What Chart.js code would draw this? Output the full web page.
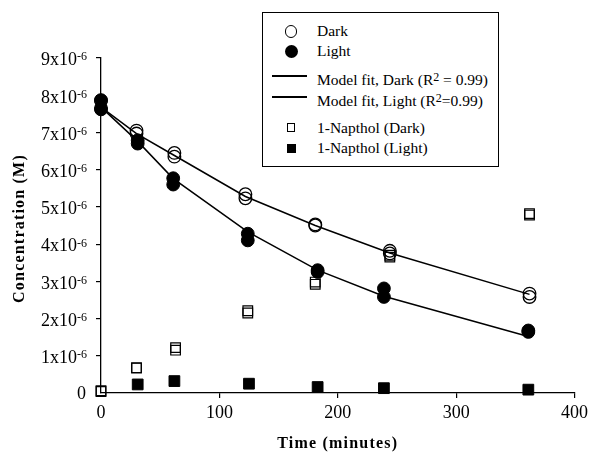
<!DOCTYPE html>
<html>
<head>
<meta charset="utf-8">
<script src="https://cdn.jsdelivr.net/npm/chart.js@4.4.1/dist/chart.umd.min.js"></script>
<style>
  html, body { margin: 0; padding: 0; background: #fff; }
  #wrap { position: relative; width: 592px; height: 459px; }
  #legend {
    position: absolute; left: 262px; top: 12px; width: 235px; height: 153px;
    border: 1px solid #000; background: #fff;
    font-family: "Liberation Serif", "Times New Roman", serif; font-size: 15.5px; color: #000;
  }
  #legend .lab { position: absolute; left: 54px; height: 20px; line-height: 20px; white-space: nowrap; }
  #legend .lab sup { font-size: 12px; vertical-align: 4px; line-height: 0; }
  #legend .sym { position: absolute; box-sizing: border-box; }
</style>
</head>
<body>
<div id="wrap">
  <canvas id="chart" width="592" height="459"></canvas>
  <div id="legend">
    <div class="sym" style="left:21.7px;top:12px;width:12.6px;height:12.6px;border:1.3px solid #000;border-radius:50%"></div>
    <div class="lab" style="top:8.3px">Dark</div>
    <div class="sym" style="left:21.5px;top:31.8px;width:13px;height:13px;background:#000;border-radius:50%"></div>
    <div class="lab" style="top:28.3px">Light</div>
    <div class="sym" style="left:9px;top:62px;width:35px;height:1.5px;background:#000"></div>
    <div class="lab" style="top:57.3px">Model fit, Dark (R<sup>2</sup> = 0.99)</div>
    <div class="sym" style="left:9px;top:83px;width:35px;height:1.5px;background:#000"></div>
    <div class="lab" style="top:78px">Model fit, Light (R<sup>2</sup>=0.99)</div>
    <div class="sym" style="left:23.8px;top:110.4px;width:8.5px;height:8.5px;border:1.2px solid #000"></div>
    <div class="lab" style="top:104.7px">1-Napthol (Dark)</div>
    <div class="sym" style="left:23.5px;top:131px;width:9px;height:9px;background:#000"></div>
    <div class="lab" style="top:125px">1-Napthol (Light)</div>
  </div>
</div>
<script>
// concentrations in units of 10^-6 M, time in minutes
const timeDark  = [0, 30, 62, 122, 181, 244, 362];
const darkRep1  = [7.85, 7.05, 6.45, 5.34, 4.53, 3.82, 2.67];
const darkRep2  = [7.65, 6.97, 6.35, 5.23, 4.50, 3.75, 2.58];

const timeLight = [0, 31, 61, 124, 183, 239, 361];
const lightRep1 = [7.87, 6.79, 5.77, 4.28, 3.30, 2.81, 1.68];
const lightRep2 = [7.62, 6.70, 5.60, 4.10, 3.25, 2.58, 1.64];

// model fit curves, evaluated at the sampling times
const fitDark  = [7.68, 6.97, 6.38, 5.28, 4.50, 3.76, 2.65];
const fitLight = [7.68, 6.76, 5.76, 4.33, 3.30, 2.60, 1.52];

const timeNapDark  = [0, 30, 63, 124, 181, 244, 362];
const napDarkRep1  = [0.04, 0.67, 1.15, 2.15, 2.92, 3.65, 4.78];
const napDarkRep2  = [0.06, 0.68, 1.22, 2.21, 2.98, 3.70, 4.82];

const timeNapLight = [31, 62, 125, 183, 239, 361];
const napLight     = [0.23, 0.32, 0.25, 0.16, 0.13, 0.09];

const xTicks = [0, 100, 200, 300, 400];
const yTicks = [0, 1, 2, 3, 4, 5, 6, 7, 8, 9];
const yExponent = '-6';

const SERIF = '"Liberation Serif", "Times New Roman", serif';

function pts(xs, ys) {
  return xs.map((x, i) => ({ x: x, y: ys[i] }));
}

function openCircles(data) {
  return { data: data, pointStyle: 'circle', pointRadius: 6.3, borderWidth: 1.3,
    borderColor: '#000', backgroundColor: 'rgba(0,0,0,0)', showLine: false, clip: false };
}
function filledCircles(data) {
  return { data: data, pointStyle: 'circle', pointRadius: 6.4, borderWidth: 1,
    borderColor: '#000', backgroundColor: '#000', showLine: false, clip: false };
}
function fitLine(data) {
  return { data: data, showLine: true, pointRadius: 0, borderWidth: 1.5,
    borderColor: '#000', backgroundColor: '#000', tension: 0, fill: false, clip: false };
}
function openSquares(data) {
  return { data: data, pointStyle: 'rect', pointRadius: 6.8, borderWidth: 1.2,
    borderColor: '#000', backgroundColor: 'rgba(0,0,0,0)', showLine: false, clip: false };
}
function filledSquares(data) {
  return { data: data, pointStyle: 'rect', pointRadius: 7.6, borderWidth: 1,
    borderColor: '#000', backgroundColor: '#000', showLine: false, clip: false };
}

// y tick labels with superscripts + axis titles
const labelsPlugin = {
  id: 'labels',
  afterDraw(chart) {
    const ctx = chart.ctx;
    const y = chart.scales.y;
    const area = chart.chartArea;
    ctx.save();
    ctx.fillStyle = '#000';
    ctx.textBaseline = 'alphabetic';
    const right = 87;
    yTicks.forEach(v => {
      const py = y.getPixelForValue(v);
      if (v === 0) {
        ctx.font = '18px ' + SERIF;
        ctx.textAlign = 'right';
        ctx.fillText('0', right - 1, py + 6.3);
        return;
      }
      ctx.font = '12px ' + SERIF;
      ctx.textAlign = 'right';
      const supW = ctx.measureText(yExponent).width;
      ctx.fillText(yExponent, right, py + 2.4);
      ctx.font = '18px ' + SERIF;
      ctx.fillText(v + 'x10', right - supW, py + 7.3);
    });

    ctx.font = 'bold 16px ' + SERIF;
    ctx.letterSpacing = '1.2px';
    ctx.textAlign = 'center';
    ctx.textBaseline = 'middle';
    ctx.fillText('Time (minutes)', (area.left + area.right) / 2, 444);

    ctx.translate(20, (area.top + area.bottom) / 2 + 3);
    ctx.rotate(-Math.PI / 2);
    ctx.fillText('Concentration (M)', 0, 0);
    ctx.restore();
  }
};

const hideZero = c => (c.tick && c.tick.value === 0) ? 'rgba(0,0,0,0)' : '#000';

new Chart(document.getElementById('chart'), {
  type: 'scatter',
  data: {
    datasets: [
      openCircles(pts(timeDark, darkRep1)),
      openCircles(pts(timeDark, darkRep2)),
      filledCircles(pts(timeLight, lightRep1)),
      filledCircles(pts(timeLight, lightRep2)),
      openSquares(pts(timeNapDark, napDarkRep1)),
      openSquares(pts(timeNapDark, napDarkRep2)),
      filledSquares(pts(timeNapLight, napLight)),
      fitLine(pts(timeDark, fitDark)),
      fitLine(pts(timeLight, fitLight))
    ]
  },
  options: {
    responsive: false,
    animation: false,
    layout: { padding: { top: 58, right: 15, left: 0, bottom: 0 } },
    plugins: { legend: { display: false }, tooltip: { enabled: false } },
    scales: {
      x: {
        type: 'linear', min: xTicks[0], max: xTicks[xTicks.length - 1],
        afterBuildTicks: s => { s.ticks = xTicks.map(v => ({ value: v })); },
        afterFit: s => { s.height = 66; },
        ticks: { color: '#000', font: { family: SERIF, size: 18 }, padding: 4, maxRotation: 0 },
        grid: { drawOnChartArea: false, tickLength: 5, color: hideZero, lineWidth: 1.2 },
        border: { color: '#000', width: 1.3 }
      },
      y: {
        type: 'linear', min: yTicks[0], max: yTicks[yTicks.length - 1],
        afterBuildTicks: s => { s.ticks = yTicks.map(v => ({ value: v })); },
        afterFit: s => { s.width = 101; },
        ticks: { color: 'rgba(0,0,0,0)', font: { family: SERIF, size: 18 } },
        grid: { drawOnChartArea: false, tickLength: 5, color: hideZero, lineWidth: 1.2 },
        border: { color: '#000', width: 1.3 }
      }
    }
  },
  plugins: [labelsPlugin]
});
</script>
</body>
</html>
